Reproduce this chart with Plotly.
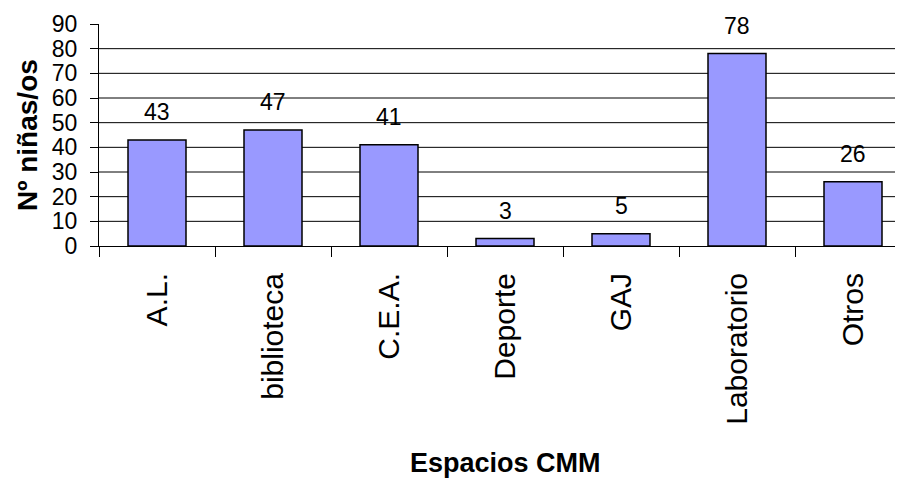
import plotly.graph_objects as go

categories = ["A.L.", "biblioteca", "C.E.A.", "Deporte", "GAJ", "Laboratorio", "Otros"]
values = [43, 47, 41, 3, 5, 78, 26]
y_ticks = [0, 10, 20, 30, 40, 50, 60, 70, 80, 90]
x_title = "Espacios CMM"
y_title = "Nº niñas/os"

FONT = "Liberation Sans, Arial, sans-serif"

fig = go.Figure()
fig.add_trace(go.Bar(
    x=categories, y=values, width=0.5,
    marker=dict(color="#9999FF", line=dict(color="black", width=1.5)),
    showlegend=False,
))

for c, v in zip(categories, values):
    fig.add_annotation(x=c, y=v, text=str(v), showarrow=False, yshift=28,
                       yanchor="middle", font=dict(family=FONT, size=23, color="black"))

# gridlines (skip the top one, as in the reference)
for t in y_ticks[1:-1]:
    fig.add_shape(type="line", xref="paper", yref="y", x0=0, x1=1, y0=t, y1=t,
                  line=dict(color="black", width=1), layer="below")

fig.add_annotation(xref="paper", yref="paper", x=(505 - 99) / 804, y=(246 - 463) / 222,
                   text="<b>%s</b>" % x_title, showarrow=False, xanchor="center", yanchor="middle",
                   font=dict(family=FONT, size=27, color="black"))
fig.add_annotation(xref="paper", yref="paper", x=(27 - 99) / 804, y=0.5,
                   text="<b>%s</b>" % y_title, showarrow=False, textangle=-90,
                   xanchor="center", yanchor="middle",
                   font=dict(family=FONT, size=28, color="black"))

fig.update_layout(
    width=895, height=471,
    margin=dict(l=91, r=0, t=16, b=233),
    paper_bgcolor="white", plot_bgcolor="white",
    font=dict(family=FONT, color="black"),
    bargap=0.5,
)
fig.update_xaxes(
    range=[-0.5, 6.431], showline=True, linecolor="black", linewidth=1,
    ticks="outside", tickson="boundaries", ticklen=10, tickcolor="black", tickwidth=1,
    tickangle=-90, tickfont=dict(family=FONT, size=30, color="black"),
    showgrid=False, ticklabelstandoff=14,
)
fig.update_yaxes(
    range=[0, 90], tickvals=y_ticks, showline=True, linecolor="black", linewidth=1,
    ticks="outside", ticklen=8, tickcolor="black", tickwidth=1,
    showgrid=False, zeroline=False,
    tickfont=dict(family=FONT, size=23, color="black"), ticklabelstandoff=8,
)

fig.write_html("out.html")
